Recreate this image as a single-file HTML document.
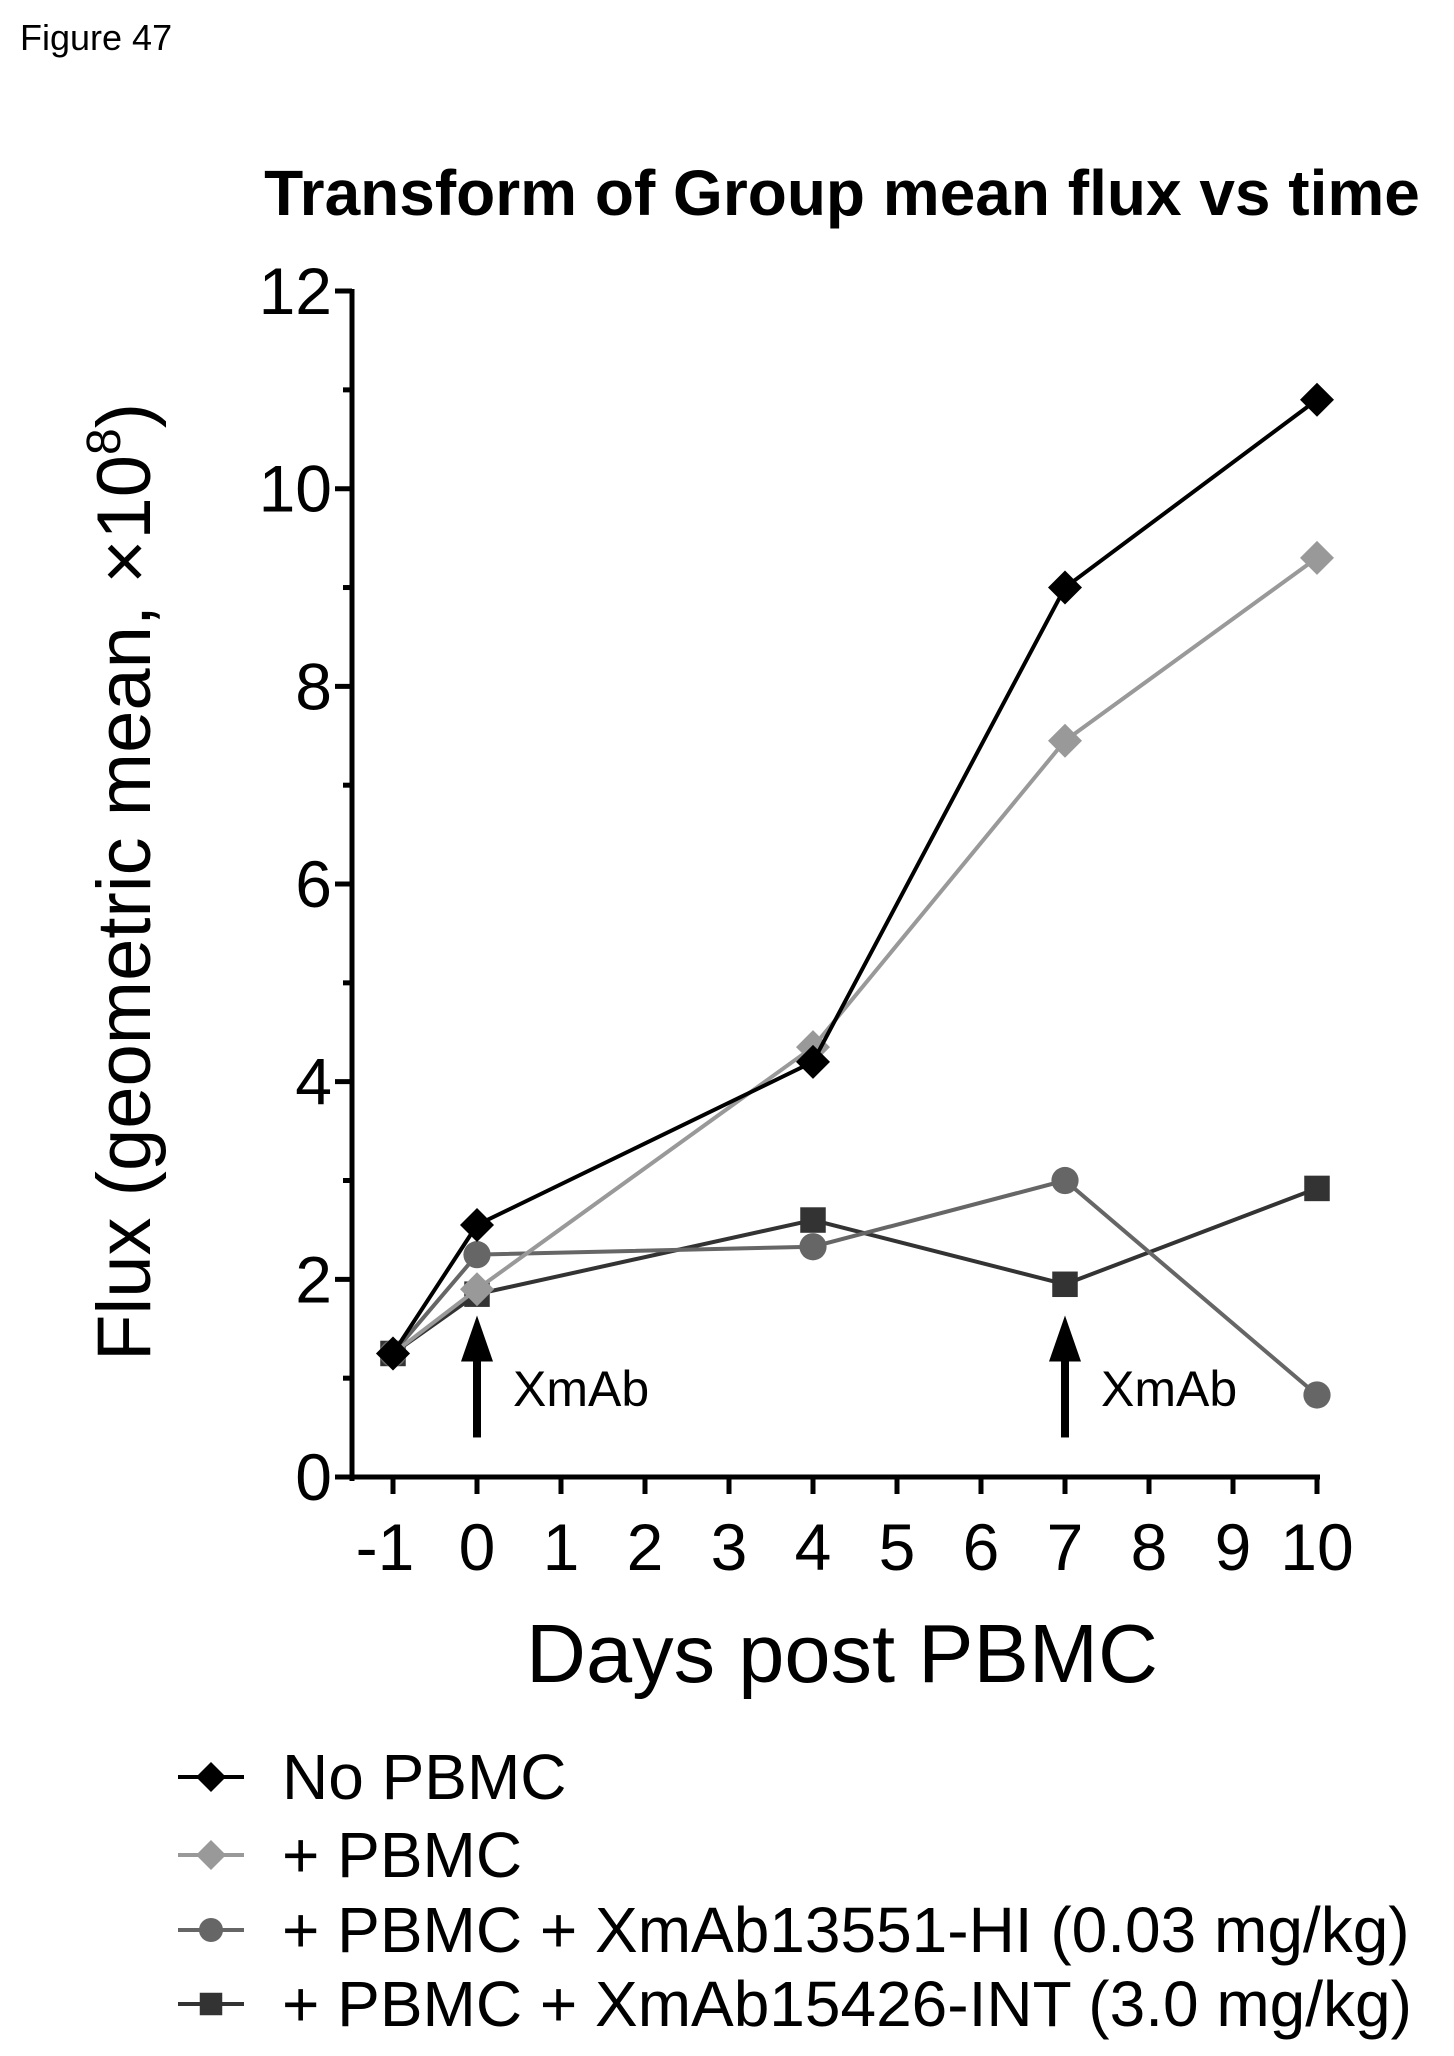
<!DOCTYPE html>
<html><head><meta charset="utf-8"><style>
body{margin:0;background:#fff;}
svg{display:block;font-family:"Liberation Sans",Arial,sans-serif;}
</style></head><body>
<svg id="c" width="1454" height="2056" viewBox="0 0 1454 2056">
<text x="20" y="50" font-size="36">Figure 47</text>
<text x="842" y="215" font-size="64" font-weight="bold" text-anchor="middle">Transform of Group mean flux vs time</text>
<g id="axes"></g>
<g id="series"></g>
<text x="842" y="1682" font-size="83" text-anchor="middle">Days post PBMC</text>
<text transform="translate(150,882) rotate(-90)" font-size="76" text-anchor="middle">Flux (geometric mean, ×10<tspan font-size="48" dy="-30">8</tspan><tspan dy="30">)</tspan></text>
<g id="legend"></g>
</svg>
<script>
const days=[-1,0,4,7,10];
const xTicks=[-1,0,1,2,3,4,5,6,7,8,9,10];
const yTicks=[0,2,4,6,8,10,12];
const noPBMC=[1.25,2.55,4.2,9.0,10.9];
const plusPBMC=[1.25,1.9,4.35,7.45,9.3];
const hi=[1.25,2.25,2.33,3.0,0.83];
const intv=[1.25,1.85,2.6,1.95,2.92];
const arrowDays=[0,7];
const labels=["No PBMC","+ PBMC","+ PBMC + XmAb13551-HI (0.03 mg/kg)","+ PBMC + XmAb15426-INT (3.0 mg/kg)"];
const NS="http://www.w3.org/2000/svg";
const X=d=>477+d*84, Y=v=>1477-v*98.83;
function mk(t,a,p){const e=document.createElementNS(NS,t);for(const k in a)e.setAttribute(k,a[k]);p.appendChild(e);return e;}
const ax=document.getElementById('axes');
let yl=mk('line',{x1:352,y1:289,x2:352,y2:1481,stroke:'#000','stroke-width':5},ax);


let xl=mk('line',{x1:335,y1:1477,x2:1320,y2:1477,stroke:'#000','stroke-width':5},ax);


for(let v=0;v<=12;v++){const major=v%2===0;mk('line',{x1:major?335:343,x2:352,y1:Y(v),y2:Y(v),stroke:'#000','stroke-width':5},ax);}
yTicks.forEach(v=>{const t=mk('text',{x:332,y:Y(v)+23,'font-size':66,'text-anchor':'end'},ax);t.textContent=v;

});
xTicks.forEach(d=>{mk('line',{x1:X(d),x2:X(d),y1:1477,y2:1494,stroke:'#000','stroke-width':5},ax);
const t=mk('text',{x:X(d)+(d<0?-8:0),y:1570,'font-size':66,'text-anchor':'middle'},ax);t.textContent=d;

});
arrowDays.forEach(d=>{const g=mk('g',{},ax);


mk('rect',{x:X(d)-4,y:Y(0.4)-80,width:8,height:80},g);
mk('polygon',{points:`${X(d)-16},${Y(0.4)-76} ${X(d)+16},${Y(0.4)-76} ${X(d)},${Y(0.4)-122}`},g);
const t=mk('text',{x:X(d)+36,y:Y(0.9)+18,'font-size':50},g);t.textContent='XmAb';});
const se=document.getElementById('series');
const defs=[
{vals:intv,color:'#333',m:'square',name:'series-xmab15426-int'},
{vals:hi,color:'#666',m:'circle',name:'series-xmab13551-hi'},
{vals:plusPBMC,color:'#999',m:'diamond',name:'series-plus-pbmc'},
{vals:noPBMC,color:'#000',m:'diamond',name:'series-no-pbmc'}];
function marker(p,type,x,y,c,s){
if(type==='diamond')return mk('polygon',{points:`${x},${y-s} ${x+s},${y} ${x},${y+s} ${x-s},${y}`,fill:c},p);
if(type==='circle')return mk('circle',{cx:x,cy:y,r:s*0.8,fill:c},p);
return mk('rect',{x:x-s*0.75,y:y-s*0.75,width:s*1.5,height:s*1.5,fill:c},p);}
defs.forEach(s=>{const g=mk('g',{},se);


mk('polyline',{points:days.map((d,i)=>X(d)+','+Y(s.vals[i])).join(' '),fill:'none',stroke:s.color,'stroke-width':4},g);
days.forEach((d,i)=>{const m=marker(g,s.m,X(d),Y(s.vals[i]),s.color,17);

});});
const lg=document.getElementById('legend');
const lorder=[defs[3],defs[2],defs[1],defs[0]];
const ly=[1777,1855,1930,2004];
lorder.forEach((s,i)=>{const g=mk('g',{},lg);


mk('line',{x1:178,x2:244,y1:ly[i],y2:ly[i],stroke:s.color,'stroke-width':4},g);
marker(g,s.m,211,ly[i],s.color,15);
const t=mk('text',{x:282,y:ly[i]+22,'font-size':64},g);t.textContent=labels[i];});
</script>
</body></html>
